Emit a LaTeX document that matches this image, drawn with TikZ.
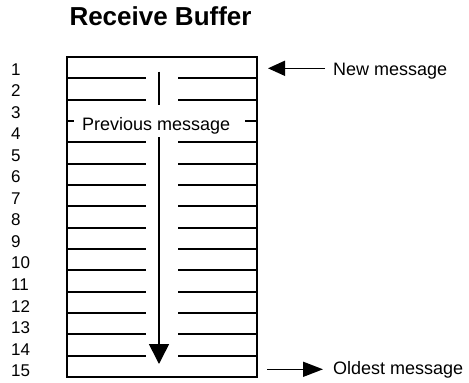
\documentclass[tikz,border=0pt]{standalone}
\usepackage{fontspec}
\setmainfont{Liberation Sans}
\usetikzlibrary{arrows.meta}
\begin{document}
\begin{tikzpicture}[x=1pt,y=-1pt,
  lbl/.style={anchor=base west, inner sep=0pt, font=\fontsize{18}{20}\selectfont},
  num/.style={anchor=base west, inner sep=0pt, font=\fontsize{17}{19}\selectfont},
  rowline/.style={line width=1.9pt},
  frame/.style={line width=1.9pt},
  flow/.style={line width=1.6pt},
]
\useasboundingbox (0,0) rectangle (469,383);
\node[anchor=base west, inner sep=0pt, font=\fontsize{26}{28}\selectfont\bfseries] (title) at (69.3,25) {Receive Buffer};
\node[draw, frame, minimum width=190pt, minimum height=320pt, anchor=north west, inner sep=0pt, outer sep=0pt] (buf) at (67,57) {};
\foreach \k in {1,2,4,5,6,7,8,9,10,11,12,13,14} {
  \draw[rowline] (67,{57+21.333*\k}) -- (146,{57+21.333*\k});
  \draw[rowline] (178,{57+21.333*\k}) -- (257,{57+21.333*\k});
}
\draw[rowline] (67,121) -- (74,121);
\draw[rowline] (245,121) -- (257,121);
\node[lbl] (prev) at (82,130) {Previous message};
\coordinate (vtop) at (159,71.7);
\coordinate (vmid) at (159,105);
\coordinate (vstart) at (159,137);
\coordinate (vend) at (159,364);
\draw[flow] (vtop) -- (vmid);
\draw[flow, -{Triangle[width=20pt,length=20pt]}] (vstart) -- (vend);
\foreach \i in {1,...,15} {
  \node[num] (n\i) at (11,{75+21.55*(\i-1)}) {\i};
}
\node[lbl] (newmsg) at (333,75.7) {New message};
\node[lbl] (oldmsg) at (333,374.3) {Oldest message};
\coordinate (newfrom) at (325,68.3);
\coordinate (newto) at (268,68.3);
\coordinate (oldfrom) at (267,369.3);
\coordinate (oldto) at (323,369.3);
\draw[flow, -{Triangle[width=15pt,length=17pt]}] (newfrom) -- (newto);
\draw[flow, -{Triangle[width=15pt,length=20pt]}] (oldfrom) -- (oldto);
\end{tikzpicture}
\end{document}
